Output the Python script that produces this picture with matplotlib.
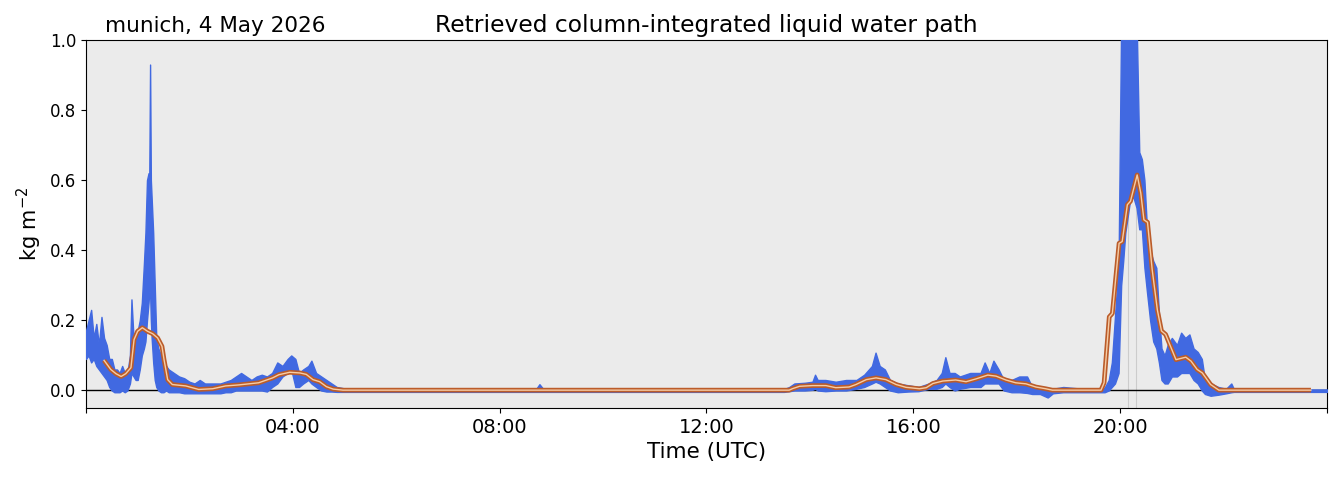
import matplotlib
matplotlib.use("Agg")
import matplotlib.pyplot as plt
from matplotlib.ticker import FixedLocator, FuncFormatter

# ---------------------------------------------------------------------------
# data (time in hours UTC, LWP in kg m-2)
# ---------------------------------------------------------------------------

# raw retrieval, drawn as the band spanned by the noisy samples
band_t = [
    0.00, 0.05, 0.10, 0.15, 0.20, 0.25, 0.30, 0.35, 0.40, 0.45,
    0.50, 0.55, 0.60, 0.65, 0.70, 0.75, 0.80, 0.85, 0.88, 0.92,
    0.96, 1.00, 1.04, 1.08, 1.12, 1.15, 1.18, 1.21, 1.225, 1.24,
    1.255, 1.27, 1.30, 1.33, 1.36, 1.40, 1.45, 1.50, 1.55, 1.60,
    1.70, 1.80, 1.90, 2.00, 2.10, 2.20, 2.30, 2.40, 2.50, 2.60,
    2.70, 2.80, 2.90, 3.00, 3.10, 3.20, 3.30, 3.40, 3.50, 3.60,
    3.70, 3.80, 3.90, 3.97, 4.05, 4.12, 4.20, 4.30, 4.36, 4.45,
    4.55, 4.65, 4.75, 4.85, 5.00, 6.00, 7.00, 8.00, 8.70, 8.77,
    8.85, 10.0, 11.0, 12.0, 13.0, 13.5, 13.6, 13.7, 13.9, 14.05,
    14.1, 14.15, 14.3, 14.5, 14.7, 14.9, 15.05, 15.2, 15.27, 15.35,
    15.45, 15.55, 15.7, 15.9, 16.1, 16.3, 16.45, 16.55, 16.62, 16.7,
    16.8, 16.9, 17.1, 17.3, 17.38, 17.47, 17.55, 17.65, 17.75, 17.9,
    18.05, 18.2, 18.3, 18.45, 18.6, 18.7, 18.9, 19.2, 19.5, 19.7,
    19.78, 19.84, 19.9, 19.97, 20.02, 20.06, 20.1, 20.15, 20.2, 20.26,
    20.32, 20.37, 20.42, 20.47, 20.52, 20.58, 20.64, 20.7, 20.75, 20.8,
    20.86, 20.92, 21.0, 21.1, 21.18, 21.26, 21.34, 21.42, 21.5, 21.58,
    21.64, 21.75, 21.9, 22.05, 22.15, 22.2, 23.0, 24.0,
]
band_hi = [
    0.17, 0.20, 0.23, 0.15, 0.19, 0.13, 0.21, 0.15, 0.13, 0.09,
    0.09, 0.06, 0.06, 0.05, 0.07, 0.05, 0.05, 0.10, 0.26, 0.15,
    0.17, 0.17, 0.20, 0.25, 0.36, 0.45, 0.60, 0.62, 0.62, 0.93,
    0.60, 0.55, 0.45, 0.30, 0.15, 0.12, 0.10, 0.08, 0.07, 0.06,
    0.05, 0.04, 0.035, 0.025, 0.02, 0.03, 0.02, 0.02, 0.02, 0.02,
    0.025, 0.03, 0.04, 0.05, 0.04, 0.03, 0.04, 0.045, 0.04, 0.05,
    0.08, 0.07, 0.09, 0.10, 0.09, 0.05, 0.06, 0.07, 0.085, 0.05,
    0.04, 0.03, 0.02, 0.01, 0.006, 0.003, 0.003, 0.003, 0.003, 0.018,
    0.003, 0.003, 0.003, 0.003, 0.003, 0.004, 0.01, 0.02, 0.022, 0.025,
    0.045, 0.03, 0.03, 0.025, 0.03, 0.03, 0.045, 0.07, 0.108, 0.07,
    0.06, 0.03, 0.02, 0.015, 0.01, 0.02, 0.03, 0.05, 0.095, 0.05,
    0.05, 0.04, 0.05, 0.05, 0.08, 0.05, 0.085, 0.06, 0.03, 0.03,
    0.04, 0.04, 0.01, 0.01, 0.005, 0.005, 0.01, 0.006, 0.004, 0.008,
    0.03, 0.08, 0.21, 0.36, 1.05, 1.05, 1.05, 1.05, 1.05, 1.05,
    1.05, 0.68, 0.66, 0.60, 0.46, 0.40, 0.37, 0.35, 0.22, 0.12,
    0.10, 0.13, 0.15, 0.13, 0.165, 0.15, 0.16, 0.12, 0.11, 0.09,
    0.03, 0.02, 0.01, 0.005, 0.02, 0.004, 0.003, 0.003,
]
band_lo = [
    0.09, 0.10, 0.08, 0.09, 0.07, 0.06, 0.05, 0.04, 0.03, 0.01,
    0.00, -0.005, -0.005, -0.005, 0.00, -0.005, 0.00, 0.02, 0.05, 0.04,
    0.03, 0.03, 0.06, 0.10, 0.12, 0.14, 0.20, 0.25, 0.28, 0.28,
    0.20, 0.15, 0.08, 0.03, 0.01, 0.00, -0.005, -0.005, 0.00, -0.005,
    -0.005, -0.005, -0.008, -0.008, -0.008, -0.008, -0.008, -0.008, -0.008, -0.008,
    -0.005, -0.005, 0.00, 0.00, 0.00, 0.00, 0.00, 0.00, -0.003, 0.01,
    0.02, 0.04, 0.05, 0.06, 0.01, 0.01, 0.02, 0.03, 0.02, 0.01,
    0.00, -0.003, -0.003, -0.004, -0.004, -0.004, -0.004, -0.004, -0.004, -0.004,
    -0.004, -0.004, -0.004, -0.004, -0.004, -0.004, -0.002, 0.00, 0.00, 0.002,
    0.005, 0.00, -0.002, 0.00, 0.00, 0.005, 0.01, 0.02, 0.025, 0.02,
    0.01, 0.00, -0.005, -0.003, -0.002, 0.005, 0.005, 0.01, 0.02, 0.01,
    0.00, 0.005, 0.01, 0.01, 0.02, 0.02, 0.02, 0.02, 0.00, -0.005,
    -0.005, -0.007, -0.01, -0.01, -0.02, -0.008, -0.005, -0.005, -0.005, -0.005,
    0.00, 0.01, 0.02, 0.05, 0.30, 0.37, 0.45, 0.50, 0.55, 0.55,
    0.52, 0.46, 0.46, 0.35, 0.28, 0.20, 0.14, 0.12, 0.08, 0.03,
    0.02, 0.02, 0.04, 0.04, 0.05, 0.05, 0.05, 0.03, 0.02, 0.00,
    -0.01, -0.015, -0.012, -0.008, -0.005, -0.004, -0.004, -0.004,
]

# running mean of the retrieval
smooth_t = [
    0.35, 0.48, 0.58, 0.68, 0.77, 0.87, 0.93, 1.00, 1.09, 1.19,
    1.29, 1.385, 1.47, 1.51, 1.58, 1.67, 1.93, 2.18, 2.45, 2.70,
    2.96, 3.34, 3.61, 3.73, 3.94, 4.14, 4.26, 4.39, 4.52, 4.65,
    4.78, 4.97, 13.60, 13.66, 13.80, 14.05, 14.31, 14.50, 14.76, 14.89,
    15.09, 15.28, 15.47, 15.67, 15.86, 16.12, 16.25, 16.38, 16.57, 16.82,
    17.02, 17.21, 17.44, 17.60, 17.79, 17.98, 18.18, 18.37, 18.56, 18.69,
    19.63, 19.69, 19.79, 19.85, 19.98, 20.04, 20.14, 20.20, 20.33, 20.40,
    20.46, 20.53, 20.62, 20.72, 20.80, 20.88, 21.08, 21.27, 21.37, 21.49,
    21.59, 21.75, 21.91, 23.69,
]
smooth_lwp = [
    0.086, 0.060, 0.048, 0.040, 0.048, 0.065, 0.145, 0.169, 0.179, 0.169,
    0.162, 0.150, 0.126, 0.088, 0.031, 0.017, 0.013, 0.003, 0.005, 0.013,
    0.016, 0.022, 0.036, 0.045, 0.052, 0.050, 0.046, 0.031, 0.025, 0.011,
    0.004, 0.001, 0.001, 0.005, 0.012, 0.014, 0.014, 0.008, 0.010, 0.017,
    0.031, 0.036, 0.031, 0.017, 0.009, 0.005, 0.008, 0.020, 0.027, 0.030,
    0.025, 0.033, 0.044, 0.041, 0.030, 0.022, 0.019, 0.010, 0.005, 0.001,
    0.001, 0.022, 0.210, 0.220, 0.420, 0.425, 0.530, 0.540, 0.615, 0.563,
    0.487, 0.480, 0.345, 0.230, 0.170, 0.160, 0.088, 0.095, 0.084, 0.060,
    0.050, 0.017, 0.001, 0.001,
]

# flagged times (thin grey markers)
flag_t = [20.15, 20.31]

x_ticks = [0, 4, 8, 12, 16, 20, 24]
y_ticks = [0.0, 0.2, 0.4, 0.6, 0.8, 1.0]


def hour_label(h, pos):
    if h <= 0 or h >= 24:
        return ""
    return f"{int(h):02d}:00"


fig = plt.figure(figsize=(13.39, 4.78), dpi=100)
ax = fig.add_axes([0.0642, 0.1464, 0.9268, 0.7699])
ax.set_facecolor("#ebebeb")

for t in flag_t:
    ax.axvline(t, color="#cccccc", lw=0.8, zorder=1)

ax.axhline(0, color="black", lw=1.0, zorder=2)
ax.fill_between(band_t, band_lo, band_hi, color="royalblue",
                edgecolor="royalblue", lw=1.0, zorder=3)
ax.plot(smooth_t, smooth_lwp, color="#bb5c2a", lw=3.4, zorder=4,
        solid_capstyle="butt")
ax.plot(smooth_t, smooth_lwp, color="#f6cda6", lw=1.0, zorder=5)

ax.set_xlim(0, 24)
ax.set_ylim(-0.05, 1.0)
ax.xaxis.set_major_locator(FixedLocator(x_ticks))
ax.xaxis.set_major_formatter(FuncFormatter(hour_label))
ax.set_yticks(y_ticks)
ax.tick_params(axis="x", labelsize=14)
ax.tick_params(axis="y", labelsize=12)

ax.set_xlabel("Time (UTC)", fontsize=15.5)
ax.set_ylabel("kg m$^{-2}$", fontsize=15)
ax.set_title("Retrieved column-integrated liquid water path", fontsize=16.8,
             pad=6)
ax.text(0.015, 1.012, "munich, 4 May 2026", transform=ax.transAxes,
        fontsize=15.5, ha="left", va="bottom")

fig.savefig("out.png", dpi=100)
